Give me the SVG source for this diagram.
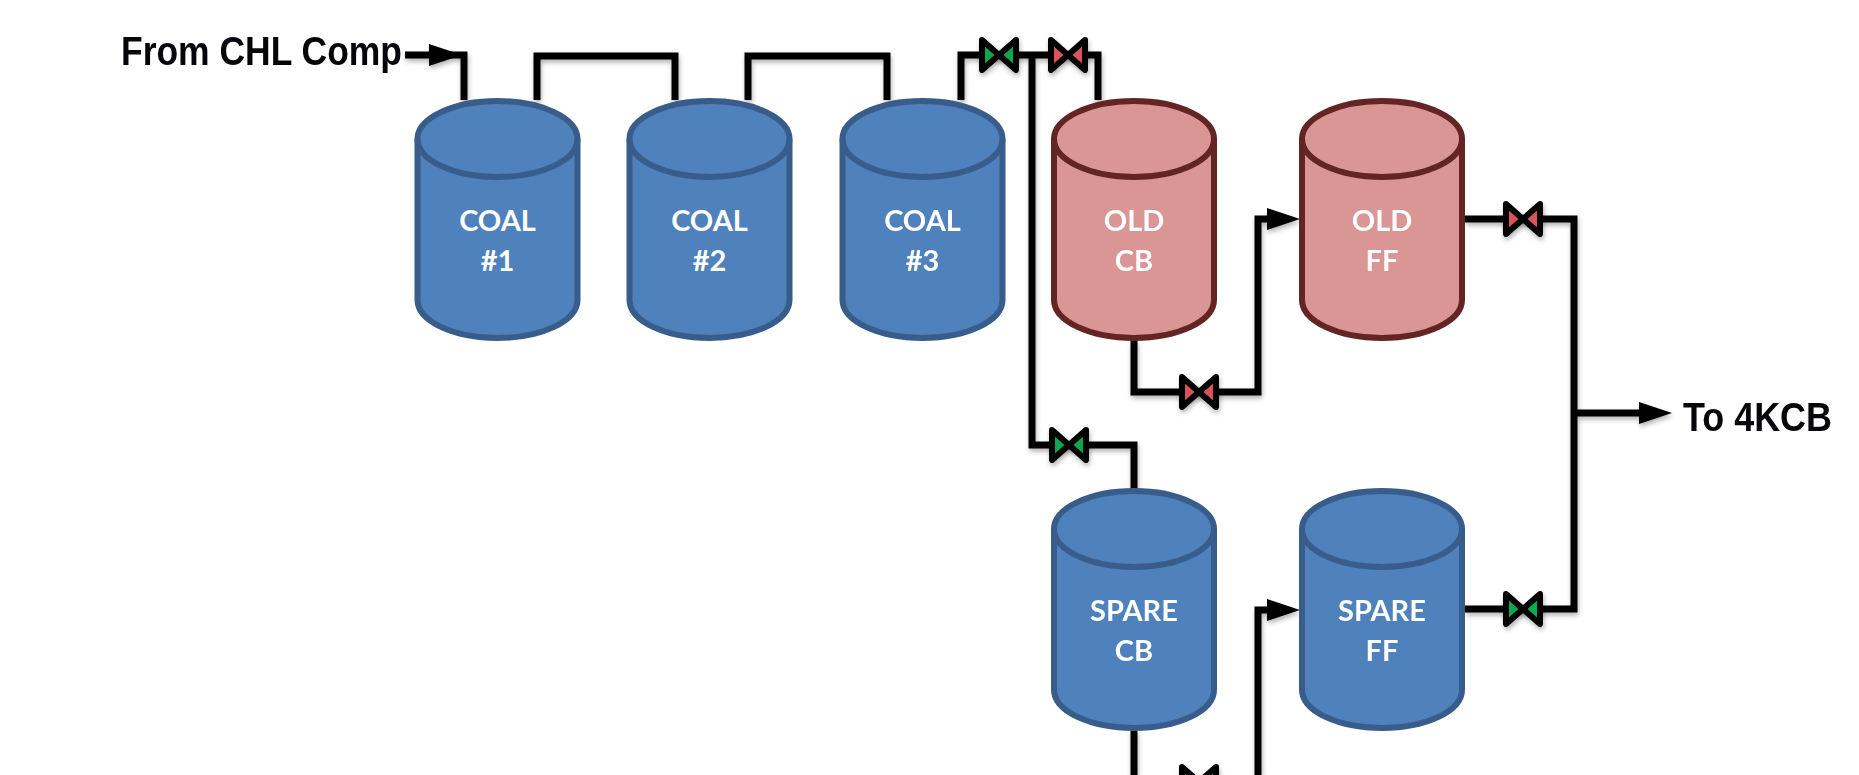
<svg xmlns="http://www.w3.org/2000/svg" width="1859" height="775" viewBox="0 0 1859 775">
<style>
.pipe{fill:none;stroke:#000;stroke-width:7;stroke-linejoin:miter}
.blue use{fill:#4f81bd;stroke:#385d8a;stroke-width:6}
.red use{fill:#d99694;stroke:#632523;stroke-width:6}
.t{font-family:Lato,"Open Sans",sans-serif;font-weight:700;font-size:29px;fill:#fff;text-anchor:middle}
.l{font-family:"Liberation Sans",Arial,sans-serif;font-weight:700;font-size:40px;fill:#05050a}
.v{stroke:#000;stroke-width:6;stroke-linejoin:round}
.vg{fill:#0fa750}.vr{fill:#d9555a}
</style>
<defs>
<filter id="sh" x="-10%" y="-10%" width="120%" height="120%"><feGaussianBlur in="SourceAlpha" stdDeviation="2.5"/><feOffset dx="1" dy="3"/><feComponentTransfer><feFuncA type="linear" slope="0.3"/></feComponentTransfer><feMerge><feMergeNode/><feMergeNode in="SourceGraphic"/></feMerge></filter>
<marker id="ah" markerUnits="userSpaceOnUse" markerWidth="34" markerHeight="24" refX="13" refY="12" orient="auto"><path d="M0 1L33 12L0 23Z" fill="#000"/></marker>
<g id="cyl"><path d="M-80 -98a80 38 0 0 1 160 0V63a80 38 0 0 1 -160 0Z"/><path d="M-80 -98a80 38 0 0 0 160 0" fill="none"/></g>
<path id="valveG" class="v vg" d="M-17 -15L0 0L-17 15ZM17 -15L0 0L17 15Z"/>
<path id="valveR" class="v vr" d="M-17 -15L0 0L-17 15ZM17 -15L0 0L17 15Z"/>
</defs>
<rect width="1859" height="775" fill="#fff"/>
<g id="connectors" filter="url(#sh)">
<path class="pipe" d="M405 55H442" marker-end="url(#ah)"/>
<path class="pipe" d="M464 100V55H450"/>
<path class="pipe" d="M537 100V56H675V100"/>
<path class="pipe" d="M748 100V56H887V100"/>
<path class="pipe" d="M961 100V55H1098V100"/>
<path class="pipe" d="M1032 55V445H1134V490"/>
<path class="pipe" d="M1134 340V392H1258V219H1280" marker-end="url(#ah)"/>
<path class="pipe" d="M1465 219H1574V609H1465"/>
<path class="pipe" d="M1574 413H1652" marker-end="url(#ah)"/>
<path class="pipe" d="M1134 730V775"/>
<path class="pipe" d="M1258 775V610H1280" marker-end="url(#ah)"/>
</g>
<g id="valves" filter="url(#sh)">
<use id="valve-coal" href="#valveG" x="999" y="55"/>
<use id="valve-old" href="#valveR" x="1068" y="55"/>
<use id="valve-oldcb" href="#valveR" x="1199" y="392"/>
<use id="valve-oldff" href="#valveR" x="1523" y="219"/>
<use id="valve-spare" href="#valveG" x="1069" y="445"/>
<use id="valve-spareff" href="#valveG" x="1523" y="609"/>
<use id="valve-sparecb" href="#valveG" x="1199" y="782"/>
</g>
<g id="coal1" class="blue"><use href="#cyl" x="497.500" y="237"/><text class="t" x="497.500" y="231">COAL</text><text class="t" x="497.500" y="271">#1</text></g>
<g id="coal2" class="blue"><use href="#cyl" x="709.500" y="237"/><text class="t" x="709.500" y="231">COAL</text><text class="t" x="709.500" y="271">#2</text></g>
<g id="coal3" class="blue"><use href="#cyl" x="922.500" y="237"/><text class="t" x="922.500" y="231">COAL</text><text class="t" x="922.500" y="271">#3</text></g>
<g id="oldcb" class="red"><use href="#cyl" x="1134" y="237"/><text class="t" x="1134" y="231">OLD</text><text class="t" x="1134" y="271">CB</text></g>
<g id="oldff" class="red"><use href="#cyl" x="1382" y="237"/><text class="t" x="1382" y="231">OLD</text><text class="t" x="1382" y="271">FF</text></g>
<g id="sparecb" class="blue"><use href="#cyl" x="1134" y="627"/><text class="t" x="1134" y="621">SPARE</text><text class="t" x="1134" y="661">CB</text></g>
<g id="spareff" class="blue"><use href="#cyl" x="1382" y="627"/><text class="t" x="1382" y="621">SPARE</text><text class="t" x="1382" y="661">FF</text></g>
<text class="l" x="121" y="65" textLength="281" lengthAdjust="spacingAndGlyphs">From CHL Comp</text>
<text class="l" x="1683" y="431" textLength="149" lengthAdjust="spacingAndGlyphs">To 4KCB</text>
</svg>
